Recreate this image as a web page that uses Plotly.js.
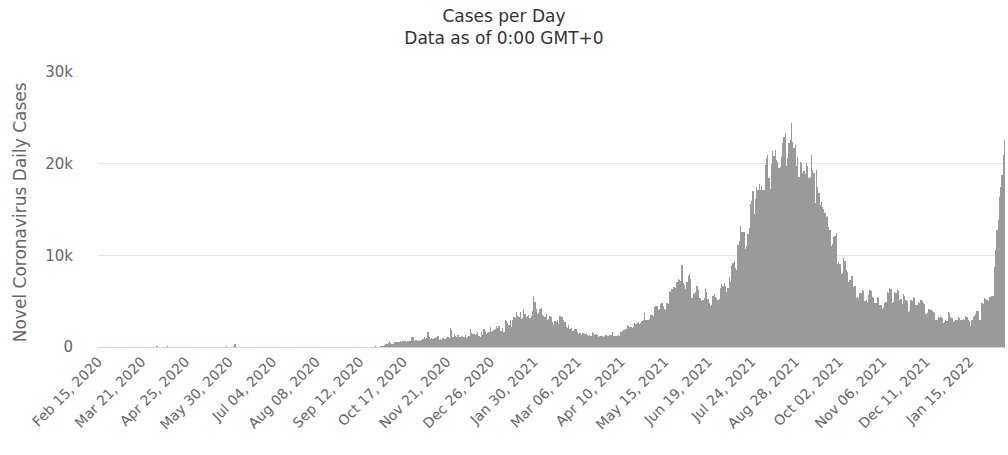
<!DOCTYPE html>
<html><head><meta charset="utf-8">
<script src="https://cdn.plot.ly/plotly-3.0.1.min.js"></script>
<style>html,body{margin:0;padding:0;background:#fff}#chart{width:1008px;height:455px}</style>
</head><body><div id="chart"></div>
<script>
// Daily new cases, one value per day starting Feb 15, 2020
const startDate = [2020, 1, 15];
const cases2020 = [
  0,0,0,0,0,0,0,0,0,0,0,0,1,2,1,
  0,2,3,5,2,9,4,2,6,4,7,3,12,14,40,30,30,28,26,30,36,30,42,30,40,48,32,38,36,40,36,
  46,60,62,48,55,42,52,48,36,38,56,48,52,28,36,22,18,27,12,19,16,23,28,17,13,12,10,17,13,30,
  18,22,33,38,18,10,15,21,13,22,19,6,13,12,22,21,12,6,12,13,10,5,10,16,25,20,55,60,37,7,12,
  38,38,93,277,19,37,7,2,31,8,41,25,10,6,14,15,12,4,3,2,5,5,5,8,3,3,2,1,4,4,
  3,3,6,2,7,5,8,3,6,8,9,13,4,12,7,15,7,10,8,5,4,1,2,7,20,23,21,4,6,3,8,
  4,6,7,8,13,15,16,25,12,11,19,14,7,4,6,8,10,12,6,9,12,8,13,7,14,5,5,7,20,19,3,
  7,6,5,4,12,8,20,8,13,30,45,21,17,29,27,13,28,29,18,32,17,33,37,42,57,51,42,55,60,71,
  90,260,317,293,432,650,489,374,354,520,540,600,580,560,620,590,640,620,640,600,660,640,620,1100,1050,700,800,750,650,760,650,
  750,900,1050,820,1030,1600,1100,850,980,870,960,1000,1100,1200,740,910,800,1030,900,850,980,1100,1000,2070,1850,1100,1400,1200,1100,1300,
  1100,1100,1200,1070,1140,1300,1000,1050,1200,2000,1500,1400,1400,1300,1400,1600,1200,1100,1600,1300,1950,1700,1450,1500,1600,2200,1600,1800,1900,2000,2300
];
const cases2021 = [
  2068,2295,1704,1741,2027,1600,3000,2800,2600,2400,3000,2200,2900,3300,3200,3800,3400,3300,3800,3100,3200,4100,3600,3300,3400,3500,3200,3400,3900,5560,4900,
  4200,3600,3700,4200,4300,3500,3400,3300,3600,2900,3100,3400,3300,2700,2400,2800,2700,2900,2500,3400,3300,3300,3000,2700,2200,2100,2400,2000,
  2100,1700,1750,2000,1950,1600,1400,1500,1300,1550,1500,1450,1400,1350,1250,1300,1200,1600,1500,1300,1450,1300,1100,1200,1150,1250,1100,1200,1300,1200,1150,
  1300,1350,1600,1200,1250,1150,1200,1300,1200,1650,1700,1850,1900,2000,2400,2300,2200,2150,2100,2200,2600,2550,2600,2700,2500,2600,2800,3000,3700,2900,
  3000,2900,3100,3500,3500,3400,4400,4500,4500,4000,4100,4700,4800,4500,4100,4000,4800,4700,6100,6000,6300,6600,6500,6400,7100,7400,7300,7200,8950,7000,6800,
  6300,7100,7700,8000,7400,5300,5900,5800,6000,6700,6200,5400,5300,5000,5100,5400,6300,6000,5200,4800,4500,4600,5600,5800,5500,5300,5100,5200,6400,6850,
  6658,6982,6658,6045,6387,7654,7097,8868,9180,9353,8574,8400,11079,11618,13215,12541,12528,12510,10710,10972,12366,13034,15573,15902,17045,14516,16117,17405,17170,17786,17150,
  17600,17150,17100,19900,20600,20900,18400,17200,20000,21350,20800,21500,20400,20200,19500,19600,20700,22300,22900,23400,19700,20600,22300,22600,24400,22400,21700,22000,19700,20700,18600,
  20150,20100,19000,19200,18900,20100,19800,18400,18600,21000,19300,19000,15700,19300,17500,16800,15500,15800,15300,15100,14600,14200,14300,13100,12800,11000,11200,12000,12100,12400,
  9100,9300,9100,8000,8100,9700,9400,8400,8200,7100,7300,7800,7700,6600,6700,5300,5500,5400,5850,5900,6200,6100,5000,5100,4900,5700,6200,6100,5500,5400,4750,
  4800,5500,5400,4550,4600,4200,4300,4750,4900,6000,5900,6400,6300,4750,4900,6000,5900,6200,6100,5100,5200,4700,5770,5600,5100,5000,3800,3900,5100,5000,
  5500,5300,4550,4600,4900,4800,5100,5000,4750,4700,3650,3700,4200,4100,4000,3900,3800,3700,2900,3000,3300,3200,3300,3200,2600,2700,2900,2800,3800,3700,3300
];
const cases2022 = [
  3200,2700,2800,2900,3000,3300,3200,2900,3000,3100,3000,3350,3300,2900,2800,2260,3000,3300,3400,3650,3950,3900,2900,3000,4750,4700,5300,5200,5100,5000,5500,
  5500,5550,5600,8750,10600,12800,13900,16400,17500,18800,21000,22600
];
const yTickVals = [0, 10000, 20000, 30000];
const yTickText = ['0', '10k', '20k', '30k'];
const titleLines = ['Cases per Day', 'Data as of 0:00 GMT+0'];
const yTitle = 'Novel Coronavirus Daily Cases';

const values = cases2020.concat(cases2021, cases2022);
const t0 = Date.UTC(startDate[0], startDate[1], startDate[2]);
const dates = values.map((v, i) => new Date(t0 + i * 86400000).toISOString().slice(0, 10));

const trace = {
  type: 'bar', x: dates, y: values,
  marker: {color: '#9a9a9a', line: {width: 0}},
  hoverinfo: 'x+y'
};

const layout = {
  width: 1008, height: 455,
  margin: {l: 98, r: 3, t: 72, b: 108},
  paper_bgcolor: '#ffffff', plot_bgcolor: '#ffffff',
  font: {family: 'DejaVu Sans, sans-serif', color: '#666666'},
  title: {
    text: titleLines.join('<br>'),
    x: 0.5, xref: 'container', xanchor: 'center',
    y: 0.952, yref: 'container', yanchor: 'top',
    font: {size: 17, color: '#333333'}
  },
  bargap: 0,
  showlegend: false,
  annotations: [{
    text: yTitle, textangle: -90,
    xref: 'paper', yref: 'paper', x: -0.086, y: 0.49,
    xanchor: 'center', yanchor: 'middle', showarrow: false,
    font: {size: 17, color: '#666666'}
  }],
  xaxis: {
    type: 'date',
    range: ['2020-02-14 22:00', '2022-02-12 12:00'],
    tickmode: 'linear', tick0: '2020-02-15', dtick: 35 * 86400000,
    tickformat: '%b %d, %Y', tickangle: -45,
    tickfont: {size: 14, color: '#666666'},
    showgrid: false, zeroline: false,
    showline: true, linecolor: '#ccd6eb', linewidth: 1,
    ticks: '', automargin: false
  },
  yaxis: {
    range: [0, 30000],
    tickmode: 'array', tickvals: yTickVals, ticktext: yTickText,
    tickfont: {size: 15, color: '#666666'},
    gridcolor: '#e6e6e6', gridwidth: 1,
    zeroline: false, showline: false, ticks: '',
    ticklabelstandoff: 24, automargin: false
  }
};

Plotly.newPlot('chart', [trace], layout, {displayModeBar: false, staticPlot: true});
</script>
</body></html>
